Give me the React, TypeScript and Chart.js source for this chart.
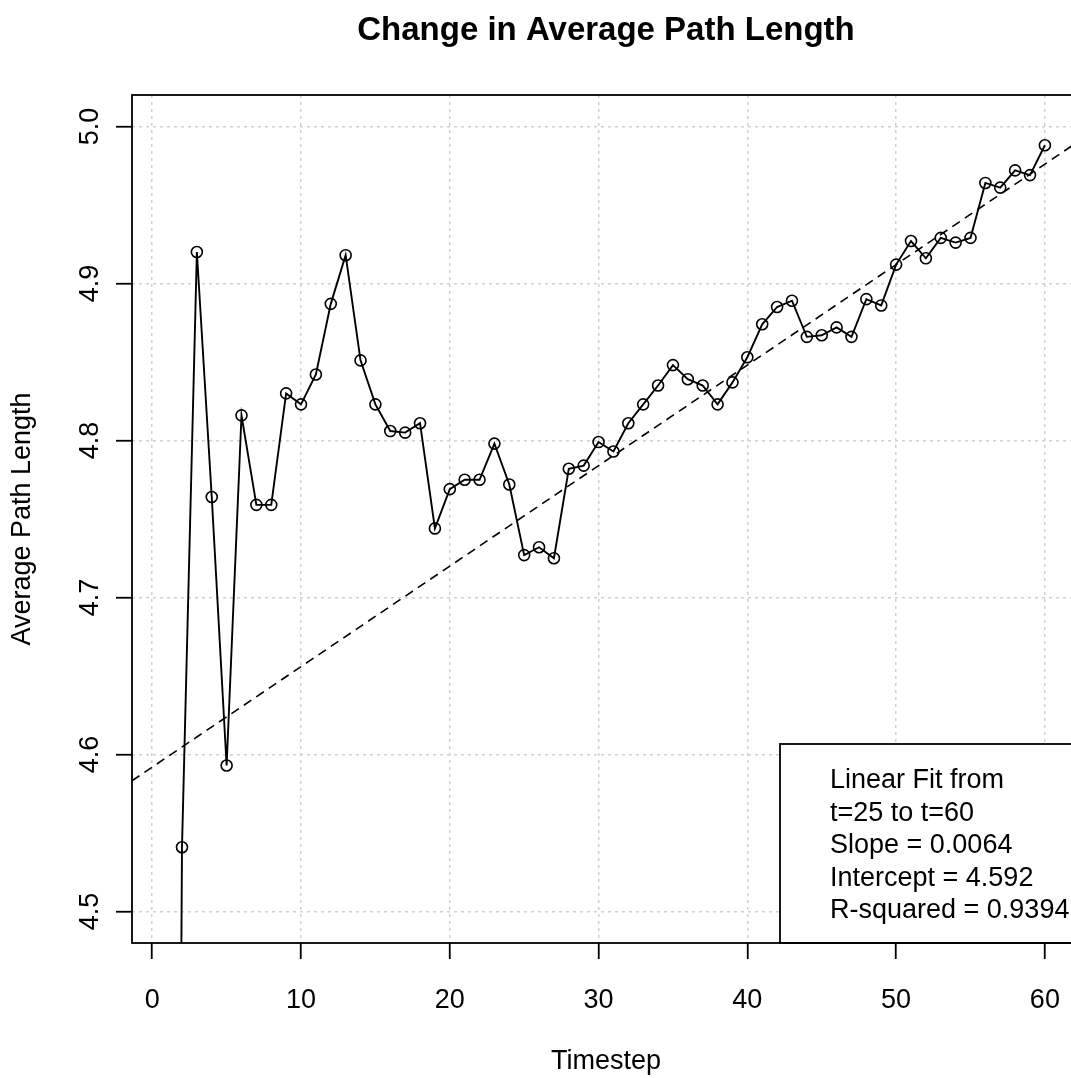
import { useEffect, useRef } from "react";
import { Chart, registerables } from "chart.js";

Chart.register(...registerables);

// Average shortest-path length of the network at each timestep
const TIMESTEPS = [
  1, 2, 3, 4, 5, 6, 7, 8, 9, 10, 11, 12, 13, 14, 15, 16, 17, 18, 19, 20,
  21, 22, 23, 24, 25, 26, 27, 28, 29, 30, 31, 32, 33, 34, 35, 36, 37, 38, 39, 40,
  41, 42, 43, 44, 45, 46, 47, 48, 49, 50, 51, 52, 53, 54, 55, 56, 57, 58, 59, 60,
];
const PATH_LENGTH = [
  3.0, 4.541, 4.92, 4.764, 4.593, 4.816, 4.759, 4.759, 4.83, 4.823,
  4.842, 4.887, 4.918, 4.851, 4.823, 4.806, 4.805, 4.811, 4.744, 4.769,
  4.775, 4.775, 4.798, 4.772, 4.727, 4.732, 4.725, 4.782, 4.784, 4.799,
  4.793, 4.811, 4.823, 4.835, 4.848, 4.839, 4.835, 4.823, 4.837, 4.853,
  4.874, 4.885, 4.889, 4.866, 4.867, 4.872, 4.866, 4.89, 4.886, 4.912,
  4.927, 4.916, 4.929, 4.926, 4.929, 4.964, 4.961, 4.972, 4.969, 4.988,
];

// Axis ranges and ticks
const X_LIMITS = [-1.36, 62.36];
const Y_LIMITS = [4.48, 5.02];
const X_TICKS = [0, 10, 20, 30, 40, 50, 60];
const Y_TICKS = [4.5, 4.6, 4.7, 4.8, 4.9, 5.0];

// Least-squares fit over t = 25..60
const FIT_SLOPE = 0.0064;
const FIT_INTERCEPT = 4.592;
const FIT_R2 = 0.9394;
const FIT_NOTE = [
  "Linear Fit from",
  "t=25 to t=60",
  `Slope = ${FIT_SLOPE}`,
  `Intercept = ${FIT_INTERCEPT}`,
  `R-squared = ${FIT_R2}`,
];

const FONT = "'Liberation Sans', Arial, Helvetica, sans-serif";
const BASE_SIZE = 27;
const GRID_COLOR = "#d0d0d0";
const INK = "#000000";

// White note box anchored to the bottom-right corner of the plot
const fitNotePlugin = {
  id: "fitNote",
  afterDatasetsDraw(chart: any) {
    const { ctx, chartArea } = chart;
    const w = 300;
    const h = 199;
    const left = chartArea.right - w;
    const top = chartArea.bottom - h;
    ctx.save();
    ctx.fillStyle = "#ffffff";
    ctx.fillRect(left, top, w, h);
    ctx.strokeStyle = INK;
    ctx.lineWidth = 1.8;
    ctx.strokeRect(left, top, w, h);
    ctx.fillStyle = INK;
    ctx.font = `${BASE_SIZE}px ${FONT}`;
    ctx.textAlign = "left";
    ctx.textBaseline = "middle";
    FIT_NOTE.forEach((line, i) => {
      ctx.fillText(line, left + 50, top + 37 + i * 32.5);
    });
    ctx.restore();
  },
};

// Full frame around the plotting region
const framePlugin = {
  id: "frame",
  afterDatasetsDraw(chart: any) {
    const { ctx, chartArea } = chart;
    ctx.save();
    ctx.strokeStyle = INK;
    ctx.lineWidth = 1.8;
    ctx.strokeRect(
      chartArea.left,
      chartArea.top,
      chartArea.right - chartArea.left,
      chartArea.bottom - chartArea.top
    );
    ctx.restore();
  },
};

export default function App() {
  const canvasRef = useRef<HTMLCanvasElement>(null);

  useEffect(() => {
    const canvas = canvasRef.current;
    if (!canvas) return;

    const fitAt = (x: number) => FIT_INTERCEPT + FIT_SLOPE * x;

    const gridOpts = {
      color: GRID_COLOR,
      lineWidth: 1.5,
      drawTicks: true,
      tickLength: 16,
      tickColor: INK,
      tickWidth: 1.8,
    };

    const chart = new Chart(canvas, {
      type: "line",
      data: {
        datasets: [
          {
            label: "Average Path Length",
            data: TIMESTEPS.map((t, i) => ({ x: t, y: PATH_LENGTH[i] })),
            borderColor: INK,
            borderWidth: 1.9,
            tension: 0,
            fill: false,
            pointRadius: 5.5,
            pointBorderWidth: 1.6,
            pointBorderColor: INK,
            pointBackgroundColor: "rgba(0,0,0,0)",
            pointStyle: "circle",
          },
          {
            label: "Linear fit",
            data: [
              { x: X_LIMITS[0], y: fitAt(X_LIMITS[0]) },
              { x: X_LIMITS[1], y: fitAt(X_LIMITS[1]) },
            ],
            borderColor: INK,
            borderWidth: 1.6,
            borderDash: [9, 6],
            tension: 0,
            fill: false,
            pointRadius: 0,
          },
        ],
      },
      options: {
        responsive: false,
        animation: false,
        events: [],
        layout: { padding: { top: 0, left: 0, right: 20, bottom: 0 } },
        plugins: {
          legend: { display: false },
          tooltip: { enabled: false },
          title: {
            display: true,
            text: "Change in Average Path Length",
            color: INK,
            fullSize: false,
            font: { family: FONT, size: 33, weight: "bold" },
            padding: { top: 11, bottom: 44.4 },
          },
        },
        scales: {
          x: {
            type: "linear",
            position: "bottom",
            min: X_LIMITS[0],
            max: X_LIMITS[1],
            afterBuildTicks: (scale: any) => {
              scale.ticks = X_TICKS.map((v) => ({ value: v }));
            },
            afterFit: (scale: any) => {
              scale.height = 135;
            },
            grid: gridOpts,
            border: { display: false, dash: [3, 4] },
            ticks: {
              color: INK,
              padding: 25.5,
              maxRotation: 0,
              autoSkip: false,
              font: { family: FONT, size: BASE_SIZE },
              callback: (v: any) => String(v),
            },
            title: {
              display: true,
              text: "Timestep",
              color: INK,
              font: { family: FONT, size: BASE_SIZE },
              padding: { top: 0, bottom: 0 },
            },
          },
          y: {
            type: "linear",
            position: "left",
            min: Y_LIMITS[0],
            max: Y_LIMITS[1],
            afterBuildTicks: (scale: any) => {
              scale.ticks = Y_TICKS.map((v) => ({ value: v }));
            },
            afterFit: (scale: any) => {
              scale.width = 132;
            },
            grid: gridOpts,
            border: { display: false, dash: [3, 4] },
            ticks: {
              color: INK,
              padding: 7,
              crossAlign: "center",
              minRotation: 90,
              maxRotation: 90,
              autoSkip: false,
              font: { family: FONT, size: BASE_SIZE },
              callback: (v: any) => Number(v).toFixed(1),
            },
            title: {
              display: true,
              text: "Average Path Length",
              color: INK,
              font: { family: FONT, size: BASE_SIZE },
              padding: { top: 6.8, bottom: 0 },
            },
          },
        },
      },
      plugins: [fitNotePlugin, framePlugin],
    } as any);

    return () => chart.destroy();
  }, []);

  return (
    <div
      style={{
        position: "fixed",
        left: 0,
        top: 0,
        width: 1071,
        height: 1078,
        overflow: "hidden",
        background: "#ffffff",
      }}
    >
      <canvas ref={canvasRef} width={1100} height={1078} style={{ display: "block" }} />
    </div>
  );
}
